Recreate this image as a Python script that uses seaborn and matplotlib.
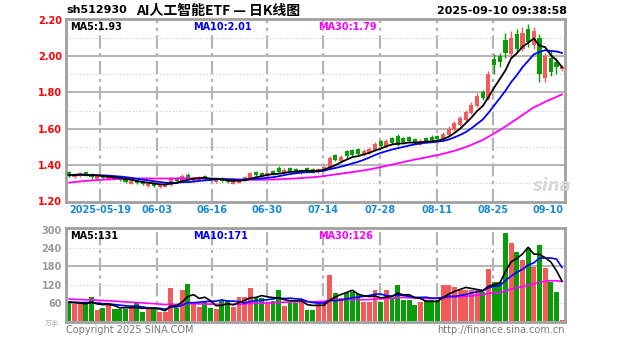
import numpy as np
import pandas as pd
import matplotlib
matplotlib.use('Agg')
import matplotlib.pyplot as plt
import seaborn as sns

sns.set_style('white')
plt.rcParams['font.family'] = ['DejaVu Sans', 'Noto Sans CJK SC']

# ---------------- data ----------------
open_ = [1.362, 1.330, 1.338, 1.360, 1.350, 1.322, 1.346, 1.318, 1.340, 1.330,
         1.322, 1.296, 1.318, 1.306, 1.284, 1.300, 1.276, 1.280, 1.288, 1.328,
         1.308, 1.346, 1.310, 1.318, 1.338, 1.328, 1.306, 1.326, 1.318, 1.296,
         1.302, 1.314, 1.326, 1.362, 1.356, 1.338, 1.366, 1.384, 1.354, 1.382,
         1.376, 1.354, 1.382, 1.376, 1.358, 1.370, 1.384, 1.452, 1.422, 1.474,
         1.480, 1.486, 1.452, 1.464, 1.482, 1.530, 1.500, 1.546, 1.560, 1.548,
         1.552, 1.542, 1.512, 1.550, 1.556, 1.560, 1.536, 1.566, 1.594, 1.622,
         1.650, 1.684, 1.724, 1.800, 1.764, 1.985, 2.000, 2.090, 2.010, 2.120,
         2.040, 2.150, 2.060, 2.100, 1.880, 1.990, 1.970, 1.930]
close = [1.340, 1.348, 1.352, 1.342, 1.330, 1.338, 1.328, 1.335, 1.322, 1.315,
         1.306, 1.312, 1.300, 1.292, 1.298, 1.284, 1.288, 1.292, 1.322, 1.312,
         1.340, 1.318, 1.326, 1.334, 1.322, 1.314, 1.320, 1.310, 1.304, 1.310,
         1.318, 1.330, 1.352, 1.345, 1.340, 1.355, 1.350, 1.362, 1.372, 1.365,
         1.360, 1.372, 1.366, 1.362, 1.375, 1.388, 1.435, 1.428, 1.445, 1.448,
         1.456, 1.462, 1.476, 1.488, 1.515, 1.505, 1.530, 1.522, 1.512, 1.524,
         1.530, 1.522, 1.534, 1.528, 1.536, 1.540, 1.572, 1.600, 1.630, 1.656,
         1.690, 1.730, 1.780, 1.770, 1.900, 1.950, 1.970, 2.020, 2.100, 2.040,
         2.130, 2.080, 2.140, 1.900, 2.000, 1.910, 1.940, 1.940]
high = [1.368, 1.356, 1.362, 1.366, 1.356, 1.344, 1.350, 1.342, 1.346, 1.336,
        1.326, 1.318, 1.322, 1.310, 1.304, 1.304, 1.294, 1.298, 1.332, 1.334,
        1.350, 1.352, 1.332, 1.340, 1.344, 1.332, 1.326, 1.330, 1.322, 1.316,
        1.324, 1.336, 1.362, 1.368, 1.360, 1.362, 1.370, 1.392, 1.380, 1.388,
        1.380, 1.378, 1.386, 1.380, 1.382, 1.396, 1.448, 1.460, 1.454, 1.482,
        1.488, 1.494, 1.486, 1.498, 1.526, 1.538, 1.540, 1.554, 1.570, 1.556,
        1.560, 1.548, 1.542, 1.556, 1.562, 1.566, 1.582, 1.612, 1.644, 1.672,
        1.704, 1.746, 1.796, 1.812, 1.916, 2.010, 2.020, 2.130, 2.140, 2.150,
        2.160, 2.180, 2.160, 2.120, 2.020, 2.030, 1.990, 1.950]
low = [1.334, 1.326, 1.334, 1.336, 1.324, 1.318, 1.322, 1.314, 1.316, 1.308,
       1.300, 1.292, 1.294, 1.286, 1.280, 1.278, 1.272, 1.276, 1.284, 1.306,
       1.304, 1.312, 1.306, 1.314, 1.316, 1.308, 1.302, 1.304, 1.298, 1.292,
       1.298, 1.310, 1.322, 1.340, 1.334, 1.334, 1.344, 1.356, 1.350, 1.360,
       1.354, 1.350, 1.360, 1.356, 1.354, 1.366, 1.380, 1.420, 1.418, 1.440,
       1.448, 1.454, 1.448, 1.460, 1.478, 1.498, 1.494, 1.516, 1.506, 1.516,
       1.522, 1.514, 1.508, 1.520, 1.528, 1.532, 1.532, 1.560, 1.588, 1.616,
       1.644, 1.678, 1.718, 1.756, 1.758, 1.900, 1.940, 1.990, 1.990, 2.020,
       2.030, 2.050, 2.040, 1.860, 1.860, 1.890, 1.900, 1.920]
volume = [60, 55, 55, 58, 79, 35, 43, 59, 40, 40,
          38, 43, 59, 30, 40, 40, 30, 30, 109, 43,
          102, 122, 59, 46, 63, 43, 40, 69, 69, 46,
          79, 79, 109, 76, 76, 60, 65, 102, 50, 58,
          58, 69, 36, 36, 59, 59, 152, 92, 76, 92,
          95, 90, 63, 63, 102, 63, 102, 76, 119, 69,
          69, 53, 63, 69, 69, 69, 119, 119, 112, 102,
          102, 102, 102, 96, 171, 129, 129, 290, 257, 228,
          201, 241, 178, 251, 175, 129, 96, 3]
# sessions just before the visible window (needed for the moving averages)
pre_close = [1.25, 1.24, 1.26, 1.27, 1.26, 1.27, 1.28, 1.27, 1.28, 1.29,
             1.28, 1.29, 1.28, 1.29, 1.30, 1.29, 1.30, 1.31, 1.30, 1.31,
             1.33, 1.34, 1.35, 1.34, 1.35, 1.34, 1.34, 1.35, 1.34]
pre_volume = [85, 70, 90, 75, 80, 72, 88, 70, 78, 82,
              75, 80, 68, 85, 72, 78, 80, 70, 76, 76,
              60, 66, 58, 70, 62, 64, 60, 68, 58]

date_labels = ['2025-05-19', '06-03', '06-16', '06-30', '07-14',
               '07-28', '08-11', '08-25', '09-10']
price_ticks = [1.20, 1.40, 1.60, 1.80, 2.00, 2.20]
volume_ticks = [60, 120, 180, 240, 300]
price_ma_text = ['MA5:1.93', 'MA10:2.01', 'MA30:1.79']
volume_ma_text = ['MA5:131', 'MA10:171', 'MA30:126']

# ---------------- layout ----------------
W, H = 627, 342
fig = plt.figure(figsize=(W / 100, H / 100), dpi=100)


def fx(px):
    return px / W


def fy(py):
    return 1 - py / H


L, R = 66, 565
ax = fig.add_axes([fx(L), fy(202), fx(R - L), (202 - 19) / H])
axv = fig.add_axes([fx(L), fy(322), fx(R - L), (322 - 228) / H])

n = len(close)
x = np.arange(n)
RED, GREEN = '#f55a5a', '#089c08'
up = np.array(close) >= np.array(open_)
colors = [RED if u else GREEN for u in up]

cs = pd.Series(pre_close + close)
vs = pd.Series(pre_volume + volume)
k = len(pre_close)
df = pd.DataFrame({
    'x': x,
    'ma5': cs.rolling(5).mean().iloc[k:].values,
    'ma10': cs.rolling(10).mean().iloc[k:].values,
    'ma30': cs.rolling(30).mean().iloc[k:].values,
    'v5': vs.rolling(5).mean().iloc[k:].values,
    'v10': vs.rolling(10).mean().iloc[k:].values,
    'v30': vs.rolling(30).mean().iloc[k:].values,
})

grid_pos = [5.5, 15.5, 25.2, 34.9, 44.8, 54.9, 64.9, 74.8]
label_pos = grid_pos + [84.5]

for a in (ax, axv):
    a.set_xlim(-0.5, n - 0.5)
    for g in grid_pos:
        a.axvline(g, color='#b4b4b4', lw=1.6, ls=(0, (6, 2, 1.5, 2)), zorder=0)
    for s in a.spines.values():
        s.set_color('#a0a0a0')
        s.set_linewidth(2.0)
    a.set_xticks([])
    a.tick_params(axis='y', length=0, pad=3)

# price panel
ax.set_ylim(1.2 - 1 / 181, 2.2 + 1 / 181)
for p in price_ticks[1:-1]:
    ax.axhline(p, color='#b4b4b4', lw=1.4, zorder=0)
for p in [1.3, 1.5, 1.7, 1.9, 2.1]:
    ax.axhline(p, color='#c8c8c8', lw=0.8, ls=(0, (1, 2)), zorder=0)
ax.vlines(x, low, high, colors=colors, lw=1.0, zorder=2)
body_b = np.minimum(open_, close)
body_h = np.maximum(np.abs(np.array(close) - np.array(open_)), 0.003)
ax.bar(x, body_h, bottom=body_b, width=0.72, color=colors, lw=0, zorder=3)
sns.lineplot(data=df, x='x', y='ma30', color='#ff00ff', lw=1.3, ax=ax, zorder=4)
sns.lineplot(data=df, x='x', y='ma10', color='#0000ff', lw=1.3, ax=ax, zorder=5)
sns.lineplot(data=df, x='x', y='ma5', color='#000000', lw=1.3, ax=ax, zorder=6)
ax.set_yticks(price_ticks)
ax.set_yticklabels([f'{p:.2f}' for p in price_ticks], color='#ff0000',
                   fontsize=7, fontweight='bold')
ax.set_xlabel('')
ax.set_ylabel('')

# volume panel
axv.set_ylim(-3.3, 307)
axv.axhline(180, color='#b4b4b4', lw=1.4, zorder=0)
for v in [60, 120, 240]:
    axv.axhline(v, color='#c8c8c8', lw=0.8, ls=(0, (1, 2)), zorder=0)
axv.bar(x, volume, width=0.86, color=colors, lw=0, zorder=2)
sns.lineplot(data=df, x='x', y='v30', color='#ff00ff', lw=1.2, ax=axv, zorder=4)
sns.lineplot(data=df, x='x', y='v10', color='#0000ff', lw=1.2, ax=axv, zorder=5)
sns.lineplot(data=df, x='x', y='v5', color='#000000', lw=1.2, ax=axv, zorder=6)
axv.set_yticks(volume_ticks)
axv.set_yticklabels([str(v) for v in volume_ticks], color='#9a9a9a',
                    fontsize=7, fontweight='bold')
axv.set_xlabel('')
axv.set_ylabel('')

# date labels
for pos, lab in zip(label_pos, date_labels):
    px = L + (pos + 0.5) * (R - L) / n
    fig.text(fx(px), fy(210), lab, ha='center', va='center', fontsize=7,
             fontweight='bold', color='#1a8ad4')

# header
fig.text(fx(66), fy(10), 'sh512930', ha='left', va='center', fontsize=8,
         fontweight='bold', color='black')
fig.text(fx(218), fy(11), 'AI人工智能ETF — 日K线图', ha='center', va='center',
         fontsize=10, fontweight='bold', color='black',
         family=['Noto Sans CJK SC', 'DejaVu Sans'])
fig.text(fx(567), fy(11), '2025-09-10 09:38:58', ha='right', va='center',
         fontsize=8, fontweight='bold', color='black')

# MA legends
for xp, txt, col in zip([70, 193, 318], price_ma_text, ['black', '#0000ff', '#ff00ff']):
    fig.text(fx(xp), fy(27), txt, ha='left', va='center', fontsize=7,
             fontweight='bold', color=col)
for xp, txt, col in zip([70, 193, 318], volume_ma_text, ['black', '#0000ff', '#ff00ff']):
    fig.text(fx(xp), fy(236), txt, ha='left', va='center', fontsize=7,
             fontweight='bold', color=col)

# watermark / footer
fig.text(fx(552), fy(186), 'sina', ha='center', va='center', fontsize=12,
         fontweight='bold', style='italic', color='#d8d8d8')
fig.text(fx(66), fy(330), 'Copyright 2025 SINA.COM', ha='left', va='center',
         fontsize=7, color='#7a7a7a')
fig.text(fx(565), fy(330), 'http://finance.sina.com.cn', ha='right', va='center',
         fontsize=7, color='#7a7a7a')
fig.text(fx(52), fy(324), '万手', ha='center', va='center', fontsize=5,
         color='#b0b0b0', family=['Noto Sans CJK SC', 'DejaVu Sans'])

fig.savefig('out.png', dpi=100)
